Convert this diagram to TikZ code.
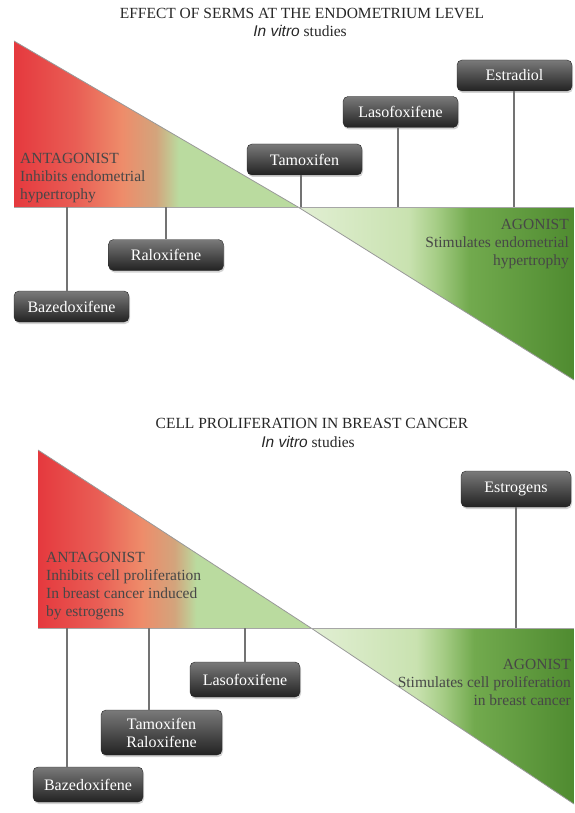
\documentclass[tikz,border=0pt]{standalone}
\usepackage{fontspec}
\setmainfont{Liberation Serif}
\newfontfamily\vitro{Liberation Sans}
\usetikzlibrary{shadows,fadings}

\definecolor{antRed}{HTML}{E5393E}
\definecolor{antRose}{HTML}{E95E55}
\definecolor{antSalmon}{HTML}{EE8C6A}
\definecolor{antTan}{HTML}{D3A47C}
\definecolor{antGreen}{HTML}{BADB9F}
\definecolor{agoPale}{HTML}{E2EFD4}
\definecolor{agoLight}{HTML}{C9E2B0}
\definecolor{agoLime}{HTML}{A6CD86}
\definecolor{agoMid}{HTML}{72AA4E}
\definecolor{agoDark}{HTML}{4F8B30}
\definecolor{boxTop}{HTML}{7A7A7A}
\definecolor{boxBot}{HTML}{222222}
\definecolor{hilite}{HTML}{F6F0B8}

\pgfdeclarehorizontalshading{antag}{100bp}{color(0bp)=(antRed); color(25bp)=(antRed); color(36bp)=(antRose); color(44bp)=(antSalmon); color(50bp)=(antTan); color(54bp)=(antGreen); color(75bp)=(antGreen); color(100bp)=(antGreen)}
\pgfdeclarehorizontalshading{agon}{100bp}{color(0bp)=(agoPale); color(25bp)=(agoPale); color(45bp)=(agoLight); color(50bp)=(agoLime); color(56bp)=(agoMid); color(75bp)=(agoDark); color(100bp)=(agoDark)}
\tikzfading[name=midfade, left color=transparent!100, middle color=transparent!20, right color=transparent!100]

\tikzset{
  drug/.style={draw=black!85, rounded corners=5pt, top color=boxTop, bottom color=boxBot,
    text=white, font=\fontsize{16}{18}\selectfont, align=center,
    minimum width=115pt, minimum height=31pt,
    drop shadow={opacity=.35, shadow xshift=1pt, shadow yshift=-2pt}},
  stem/.style={draw=black!55, line width=1.4pt},
  base/.style={draw=black!35, line width=1pt},
  edge/.style={draw=black!40, line width=.8pt},
  glow/.style={fill=hilite, path fading=midfade},
  head/.style={text=black!85, font=\fontsize{15.5}{18}\selectfont, inner sep=0pt},
  note/.style={text=black!72, font=\fontsize{15.5}{18}\selectfont, inner sep=0pt}
}

\begin{document}
\begin{tikzpicture}[x=1pt,y=-1pt]
	\useasboundingbox (0,0) rectangle (574,813);
	
	\node[head] (ttlA) at (302,13) {EFFECT OF SERMS AT THE ENDOMETRIUM LEVEL};
	\node[head] (subA) at (300,31) {{\vitro\itshape In vitro} studies};
	
	\shade[shading=agon] (298,207) -- (574,207) -- (574,380) -- cycle;
	\shade[shading=antag] (14,41) -- (14,207) -- (298,207) -- cycle;
	\fill[glow] (60,202) rectangle (292,207);
	\draw[edge] (14,41) -- (298,207) -- (574,380);
	\draw[base] (14,207) -- (574,207);
	
	\node[note, anchor=north west, align=left] (antA) at (20,153)
		{ANTAGONIST\\Inhibits endometrial\\hypertrophy};
	\node[note, anchor=north east, align=right] (agoA) at (569,219)
		{AGONIST\\Stimulates endometrial\\hypertrophy};
	
	\node[drug] (tamo) at (304.5,159.5) {Tamoxifen};
	\node[drug] (laso) at (400.5,112) {Lasofoxifene};
	\node[drug] (estr) at (514.5,75.5) {Estradiol};
	\node[drug] (ralo) at (166,255) {Raloxifene};
	\node[drug] (bazA) at (71.5,306.5) {Bazedoxifene};
	
	\node[head] (ttlB) at (312,423) {CELL PROLIFERATION IN BREAST CANCER};
	\node[head] (subB) at (308,442) {{\vitro\itshape In vitro} studies};
	
	\shade[shading=agon] (311,628) -- (574,628) -- (574,804) -- cycle;
	\shade[shading=antag] (38,450) -- (38,628) -- (311,628) -- cycle;
	\fill[glow] (80,623) rectangle (305,628);
	\draw[edge] (38,450) -- (311,628) -- (574,804);
	\draw[base] (38,628) -- (574,628);
	
	\node[note, anchor=north west, align=left] (antB) at (46,552)
		{ANTAGONIST\\Inhibits cell proliferation\\In breast cancer induced\\by estrogens};
	\node[note, anchor=north east, align=right] (agoB) at (571,659)
		{AGONIST\\Stimulates cell proliferation\\in breast cancer};
	
	\node[drug, minimum width=110pt, minimum height=36pt] (estro) at (516,489) {Estrogens};
	\node[drug, minimum width=110pt, minimum height=35pt] (lasoB) at (245,679.5) {Lasofoxifene};
	\node[drug, minimum width=121pt, minimum height=45pt] (tamral) at (161.5,732.5) {Tamoxifen\\Raloxifene};
	\node[drug, minimum width=110pt, minimum height=35pt] (bazB) at (88,784.5) {Bazedoxifene};
	
	\foreach \n/\x in {tamo/301, laso/398, estr/514, ralo/166, bazA/67}
		\coordinate (\n-foot) at (\x,207);
	\foreach \n/\x in {estro/516, lasoB/245, tamral/149, bazB/67}
		\coordinate (\n-foot) at (\x,628);
	
	\foreach \n in {tamo, laso, estr, estro}
		\draw[stem] (\n-foot |- \n.south) -- (\n-foot);
	\foreach \n in {ralo, bazA, lasoB, tamral, bazB}
		\draw[stem] (\n-foot) -- (\n-foot |- \n.north);
\end{tikzpicture}
\end{document}
